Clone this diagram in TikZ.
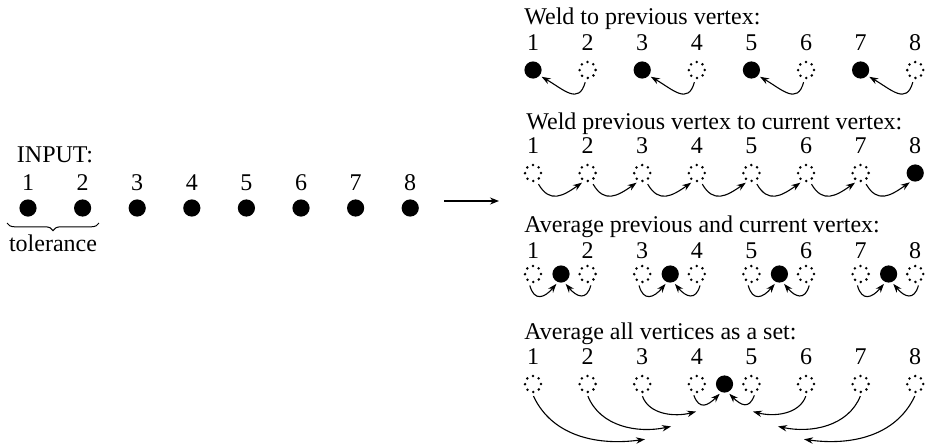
\documentclass[tikz,border=0pt]{standalone}
\usepackage{fontspec}
\setmainfont{Liberation Serif}
\usetikzlibrary{arrows.meta,decorations.pathreplacing}

\begin{document}
\begin{tikzpicture}[x=0.5pt,y=0.5pt,
		font=\fontsize{12}{14}\selectfont,
		vtx/.style={circle,fill=black,inner sep=0pt,minimum size=8.6pt},
		ghost/.style={circle,draw,inner sep=0pt,minimum size=8pt,line width=1.4pt,line cap=round,dash pattern=on 0pt off 3.14pt},
		num/.style={anchor=base,inner sep=0pt},
		ttl/.style={anchor=base west,inner sep=0pt},
		e/.style={-{Stealth[length=4.5pt,width=3.2pt]},line width=0.55pt,shorten <=1.5pt,shorten >=1pt}
		]
		\useasboundingbox (0,0) rectangle (929,446);

		% Input row
		\node[num] (inp) at (55,284) {INPUT:};
		\foreach \k in {1,...,8} {
			\node[num] (n0\k) at ({28+54.6*(\k-1)},256) {\k};
			\node[vtx] (in\k) at ({28+54.6*(\k-1)},238) {};
		}
		\coordinate (bl) at (7,223); \coordinate (br) at (99,223);
		\draw[decorate,decoration={brace,mirror,amplitude=3.8pt},line width=0.5pt] (bl) -- (br);
		\node[num] (tol) at (53,195) {tolerance};

		\coordinate (go1) at (444,245); \coordinate (go2) at (499,245);
		\draw[-{Stealth[length=4.5pt,width=3.5pt]},line width=0.6pt] (go1) -- (go2);

		% Weld to previous vertex
		\node[ttl] (t1) at (524,422) {Weld to previous vertex:};
		\foreach \k in {1,...,8} \node[num] (n1\k) at ({533+54.6*(\k-1)},396) {\k};
		\foreach \k in {1,3,5,7} \node[vtx] (a\k) at ({533+54.6*(\k-1)},376) {};
		\foreach \k in {2,4,6,8} \node[ghost] (a\k) at ({533+54.6*(\k-1)},376) {};
		\foreach \k [evaluate=\k as \j using int(\k-1)] in {2,4,6,8}
			\draw[e] (a\k.-100) to[out=-105,in=-30,looseness=1.5] (a\j.-40);

		% Weld previous vertex to current vertex
		\node[ttl] (t2) at (526,317) {Weld previous vertex to current vertex:};
		\foreach \k in {1,...,8} \node[num] (n2\k) at ({533+54.6*(\k-1)},293) {\k};
		\foreach \k in {1,...,7} \node[ghost] (b\k) at ({533+54.6*(\k-1)},273) {};
		\node[vtx] (b8) at ({533+54.6*7},273) {};
		\foreach \k [evaluate=\k as \j using int(\k+1)] in {1,...,7}
			\draw[e] (b\k.-65) to[out=-60,in=-145,looseness=1.4] (b\j.-115);

		% Average previous and current vertex
		\node[ttl] (t3) at (524,214) {Average previous and current vertex:};
		\foreach \k in {1,...,8} {
			\node[num] (n3\k) at ({533+54.6*(\k-1)},188) {\k};
			\node[ghost] (c\k) at ({533+54.6*(\k-1)},172) {};
		}
		\foreach \k [evaluate=\k as \j using int(2*\k-1), evaluate=\k as \i using int(2*\k)] in {1,...,4} {
			\node[vtx] (m\k) at ({561+109.2*(\k-1)},172) {};
			\draw[e] (c\j.-115) to[out=-75,in=-130,looseness=1.8] (m\k.-112);
			\draw[e] (c\i.-65) to[out=-105,in=-50,looseness=1.8] (m\k.-68);
		}

		% Average all vertices as a set
		\node[ttl] (t4) at (524,107) {Average all vertices as a set:};
		\foreach \k in {1,...,8} {
			\node[num] (n4\k) at ({533+54.6*(\k-1)},82) {\k};
			\node[ghost] (d\k) at ({533+54.6*(\k-1)},62) {};
		}
		\node[vtx] (mid) at (724.5,62) {};
		\coordinate (p1) at (647,7); \coordinate (p2) at (673,20); \coordinate (p3) at (698,35);
		\coordinate (p6) at (751,35); \coordinate (p7) at (776,20); \coordinate (p8) at (802,7);
		\draw[e] (d4.-115) to[out=-70,in=-135,looseness=1.7] (mid.-112);
		\draw[e] (d5.-65) to[out=-110,in=-45,looseness=1.7] (mid.-68);
		\draw[e] (d3.-95) to[out=-70,in=-165] (p3);
		\draw[e] (d2.-95) to[out=-68,in=-168] (p2);
		\draw[e] (d1.-95) to[out=-65,in=-172] (p1);
		\draw[e] (d6.-85) to[out=-110,in=-15] (p6);
		\draw[e] (d7.-85) to[out=-112,in=-12] (p7);
		\draw[e] (d8.-85) to[out=-115,in=-8] (p8);
	\end{tikzpicture}
\end{document}
